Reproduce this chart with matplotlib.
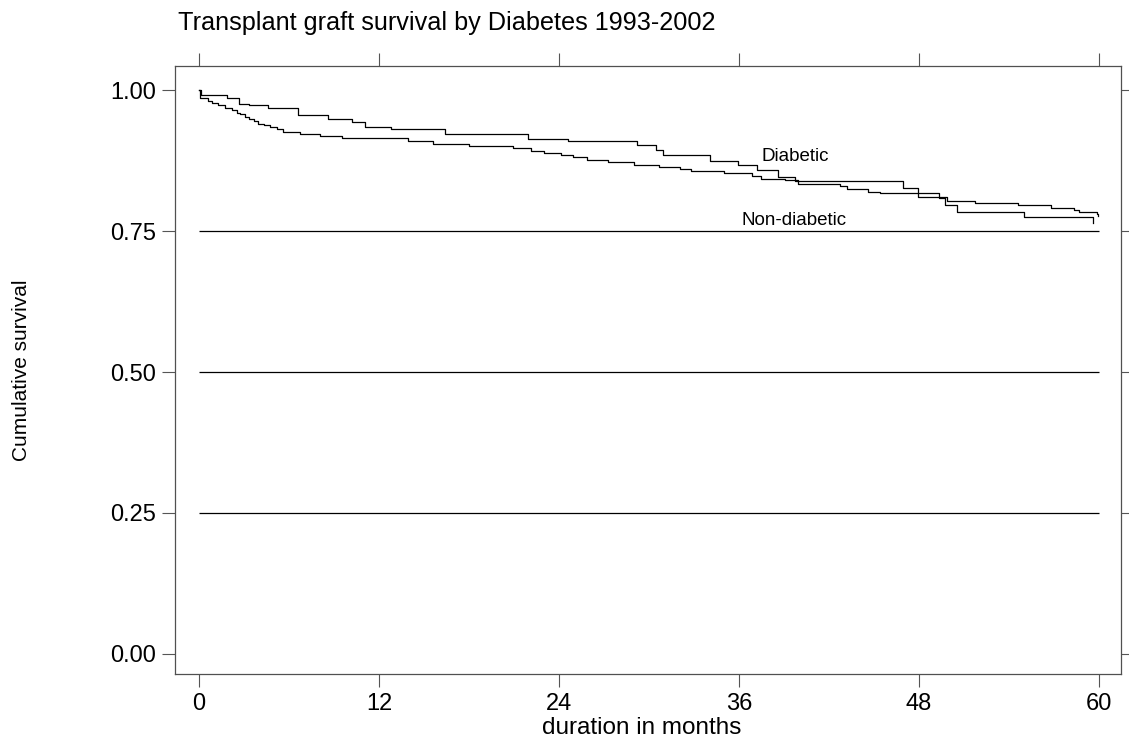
import matplotlib
matplotlib.use("Agg")
import matplotlib.pyplot as plt

# ── Kaplan-Meier step data (months, cumulative survival) ─────────────────────
nondiab_t = [0, 0.15, 1.89, 2.69, 3.35, 4.58, 6.58, 8.62, 10.22, 11.07, 12.78,
             16.42, 21.93, 24.6, 29.18, 30.45, 30.93, 34.07, 35.95, 37.18,
             38.62, 39.73, 46.96, 47.93, 49.35, 49.73, 50.51, 54.99, 59.58]
nondiab_s = [1.0, 0.991, 0.985, 0.976, 0.973, 0.968, 0.956, 0.948, 0.943, 0.934,
             0.931, 0.922, 0.914, 0.909, 0.902, 0.893, 0.885, 0.875, 0.867,
             0.858, 0.846, 0.838, 0.826, 0.818, 0.809, 0.797, 0.783, 0.775, 0.764]

diab_t = [0, 0.1, 0.62, 0.84, 1.29, 1.73, 2.18, 2.51, 2.73, 3.07, 3.36, 3.69,
          3.96, 4.33, 4.73, 5.22, 5.58, 6.73, 8.07, 9.51, 13.96, 15.62, 18.0,
          20.96, 22.11, 23.02, 24.13, 24.96, 25.84, 27.29, 29.02, 30.7, 32.1,
          32.8, 35.0, 36.9, 37.5, 39.1, 39.93, 42.73, 43.2, 44.6, 45.4, 47.95,
          49.84, 51.73, 54.58, 56.8, 58.33, 58.67, 59.9, 59.93]
diab_s = [1.0, 0.985, 0.981, 0.9775, 0.9729, 0.9686, 0.9645, 0.9598, 0.9569,
          0.9527, 0.948, 0.9445, 0.9397, 0.9374, 0.9339, 0.9303, 0.9261, 0.922,
          0.9184, 0.9144, 0.9096, 0.9048, 0.9013, 0.8972, 0.8924, 0.8889,
          0.8848, 0.8807, 0.8759, 0.8718, 0.8676, 0.864, 0.86, 0.856, 0.852,
          0.847, 0.843, 0.84, 0.834, 0.829, 0.825, 0.82, 0.817, 0.811, 0.804,
          0.8, 0.796, 0.791, 0.787, 0.783, 0.780, 0.777]

x_ticks = [0, 12, 24, 36, 48, 60]
y_ticks = [0.0, 0.25, 0.50, 0.75, 1.00]
y_ticklabels = ["0.00", "0.25", "0.50", "0.75", "1.00"]
grid_levels = [0.25, 0.50, 0.75]

plt.rcParams["font.family"] = ["Liberation Sans", "DejaVu Sans"]

W, H = 1129, 740
fig = plt.figure(figsize=(W / 100, H / 100), dpi=100)
fig.patch.set_facecolor("white")
ax = fig.add_axes([175 / W, (H - 674) / H, (1121 - 175) / W, (674 - 66) / H])

ax.hlines(grid_levels, x_ticks[0], x_ticks[-1], color="black", linewidth=0.9)
ax.step(nondiab_t, nondiab_s, where="post", color="black", linewidth=0.9)
ax.step(diab_t, diab_s, where="post", color="black", linewidth=0.9)

ax.text(37.5, 0.883, "Diabetic", fontsize=13.5, va="center", ha="left")
ax.text(36.2, 0.768, "Non-diabetic", fontsize=13.5, va="center", ha="left")

ax.set_xlim(-1.6, 61.47)
ax.set_ylim(-0.0355, 1.0426)
ax.set_xticks(x_ticks)
ax.set_yticks(y_ticks)
ax.set_yticklabels(y_ticklabels)
ax.tick_params(direction="out", length=9.4, width=0.8, color="#555555",
               labelsize=17, top=True, right=True, pad=4)
for spine in ax.spines.values():
    spine.set_edgecolor("#505050")
    spine.set_linewidth(0.9)

fig.text(178 / W, 1 - 23 / H, "Transplant graft survival by Diabetes 1993-2002",
         fontsize=18.2, ha="left", va="center")
fig.text(22 / W, 1 - 370 / H, "Cumulative survival", fontsize=15,
         rotation=90, ha="center", va="center")
fig.text(642 / W, 1 - 728 / H, "duration in months", fontsize=17.5,
         ha="center", va="center")

plt.savefig("out.png", dpi=100, facecolor=fig.get_facecolor())
plt.close()
